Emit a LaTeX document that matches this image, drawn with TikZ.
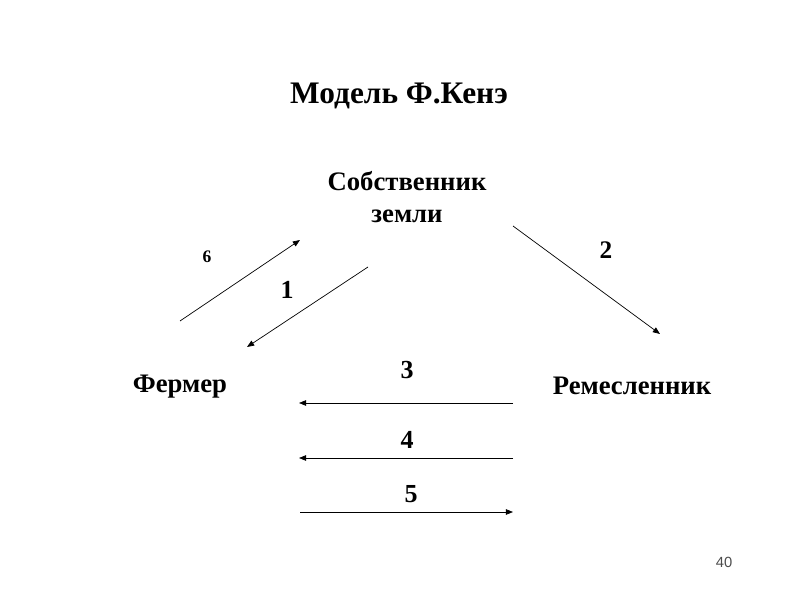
\documentclass[tikz,border=0pt]{standalone}
\usepackage{fontspec}
\setmainfont{Liberation Serif}[BoldFont={Liberation Serif Bold}]
\newfontfamily\pagefont{Liberation Sans}
\usepackage{xcolor}
\usepackage{tikz}
\usetikzlibrary{arrows.meta}

\begin{document}
\begin{tikzpicture}[
    lbl/.style={inner sep=0pt, font=\bfseries\fontsize{19}{23}\selectfont},
    num/.style={inner sep=0pt, font=\bfseries\fontsize{#1}{#1}\selectfont},
    arr/.style={-{Triangle[length=1.8mm,width=1.4mm]}, line width=0.5pt}]
    \useasboundingbox (0,0) rectangle (20,15);
    \node[lbl, font=\bfseries\fontsize{22.3}{26}\selectfont] (title) at (9.975,12.6) {Модель Ф.Кенэ};
    \node[lbl, align=center] (owner) at (10.175,10.075) {Собственник\\земли};
    \node[lbl] (farmer) at (4.5,5.33) {Фермер};
    \node[lbl] (craft) at (15.8,5.36) {Ремесленник};

    \node[num=12.5] (n6) at (5.175,8.575) {6};
    \node[num=18.5] (n1) at (7.175,7.75) {1};
    \node[num=18] (n2) at (15.15,8.75) {2};
    \node[num=18.5] (n3) at (10.175,5.75) {3};
    \node[num=18.5] (n4) at (10.175,4.0) {4};
    \node[num=18.5] (n5) at (10.275,2.65) {5};
    \node[font=\pagefont\fontsize{10.5}{12}\selectfont, text=black!70] (page) at (18.1,0.95) {40};

    % arrow ends
    \coordinate (a6) at (4.5,6.975);   \coordinate (b6) at (7.5,9.0);
    \coordinate (a1) at (9.2,8.325);   \coordinate (b1) at (6.175,6.325);
    \coordinate (a2) at (12.825,9.35); \coordinate (b2) at (16.5,6.65);
    \coordinate (a3) at (12.825,4.925); \coordinate (b3) at (7.475,4.925);
    \coordinate (a4) at (12.825,3.55); \coordinate (b4) at (7.475,3.55);
    \coordinate (a5) at (7.5,2.2);     \coordinate (b5) at (12.825,2.2);

    \draw[arr] (a6) -- (b6);
    \draw[arr] (a1) -- (b1);
    \draw[arr] (a2) -- (b2);
    \draw[arr] (a3) -- (b3);
    \draw[arr] (a4) -- (b4);
    \draw[arr] (a5) -- (b5);
\end{tikzpicture}
\end{document}
